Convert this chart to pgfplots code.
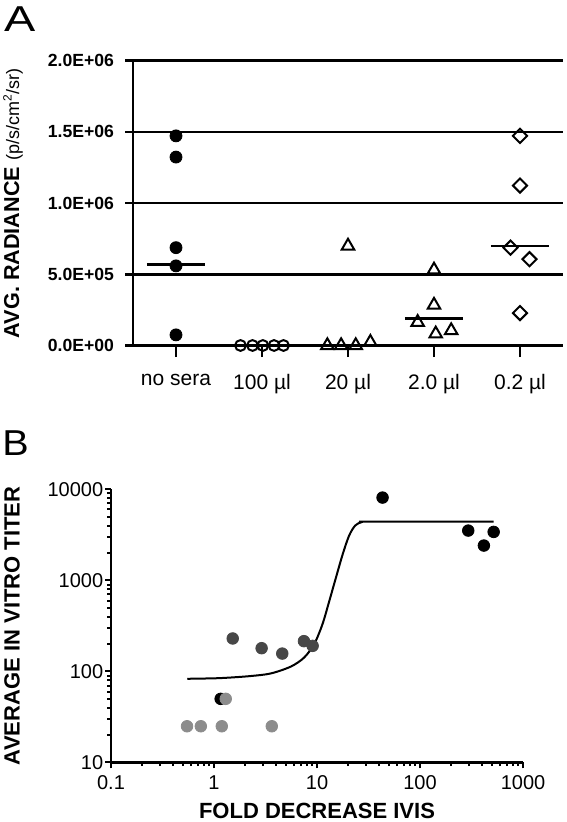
\documentclass[border=0pt]{standalone}
\usepackage{fontspec}
\setmainfont{Liberation Sans}
\usepackage{pgfplots}
\pgfplotsset{compat=1.18}
\definecolor{dgray}{HTML}{474747}
\definecolor{lgray}{HTML}{8C8C8C}
\begin{document}
\begin{tikzpicture}
\useasboundingbox (0,0) rectangle (283pt,411pt);
% Panel A
\begin{axis}[
  at={(66.5pt,238.25pt)}, anchor=south west,
  scale only axis, width=215pt, height=142.4pt,
  xmin=-0.5, xmax=4.5, ymin=0, ymax=2000000,
  clip=false,
  axis x line=bottom, axis y line=left,
  axis line style={-, line width=1.3pt},
  tick style={line width=1.3pt, black},
  tick align=outside, major tick length=4pt,
  xtick style={/pgfplots/major tick length=5.8pt},
  xtick={0,1,2,3,4},
  xticklabels={no sera,100 \textmu l,20 \textmu l,2.0 \textmu l,0.2 \textmu l},
  ytick={0,500000,1000000,1500000,2000000},
  yticklabels={\textbf{0.0E+00},\textbf{5.0E+05},\textbf{1.0E+06},\textbf{1.5E+06},\textbf{2.0E+06}},
  scaled y ticks=false,
  ymajorgrids, major grid style={line width=1.3pt, black},
  xticklabel style={font=\fontsize{10.5pt}{12pt}\selectfont, anchor=north, inner sep=0pt, yshift=-10.3pt},
  yticklabel style={font=\fontsize{8.8pt}{10pt}\selectfont, anchor=east, inner sep=0pt, xshift=-5.3pt},
  ylabel={\textbf{AVG. RADIANCE} \fontsize{9pt}{10pt}\selectfont(p/s/cm\textsuperscript{2}/sr)},
  every axis y label/.style={at={(axis description cs:-0.279,0.5)}, rotate=90, anchor=center, font=\fontsize{10.8pt}{12pt}\selectfont},
]
\addplot[only marks, mark=*, mark size=3pt, black] coordinates {
 (0,1472000) (0,1323000) (0,687000) (0,559000) (0,74500)};
\addplot[only marks, mark=o, mark size=2.7pt, black, mark options={line width=1pt}] coordinates {
 (0.75,0) (0.89,0) (1.01,0) (1.14,0) (1.25,0)};
\addplot[only marks, mark=triangle, mark size=3.6pt, black, mark options={line width=1pt}] coordinates {
 (2,699000) (1.76,0) (1.92,0) (2.09,0) (2.26,23000)};
\addplot[only marks, mark=triangle, mark size=3.6pt, black, mark options={line width=1pt}] coordinates {
 (3,531000) (3,284000) (2.81,163000) (3.02,82000) (3.2,105000)};
\addplot[only marks, mark=square, mark size=2.5pt, black, mark options={rotate=45, line width=1pt}] coordinates {
 (4,1472000) (4,1123000) (3.89,687000) (4.11,606000) (4,228000)};
% medians
\addplot[black, line width=1.3pt] coordinates {(-0.34,568000) (0.34,568000)};
\addplot[black, line width=1.3pt] coordinates {(0.66,0) (1.34,0)};
\addplot[black, line width=1.3pt] coordinates {(1.66,0) (2.34,0)};
\addplot[black, line width=1.3pt] coordinates {(2.66,191000) (3.34,191000)};
\addplot[black, line width=1.3pt] coordinates {(3.66,699000) (4.34,699000)};
\end{axis}
% Panel B
\begin{axis}[
  at={(55.5pt,29.75pt)}, anchor=south west,
  scale only axis, width=206pt, height=136.6pt,
  xmode=log, ymode=log,
  xmin=0.1, xmax=1000, ymin=10, ymax=10000,
  clip=false,
  axis x line=bottom, axis y line=left,
  axis line style={-, line width=1.3pt},
  tick style={line width=1pt, black},
  tick align=outside, major tick length=3pt, minor tick length=1.8pt,
  xtick={0.1,1,10,100,1000}, xticklabels={0.1,1,10,100,1000},
  ytick={10,100,1000,10000}, yticklabels={10,100,1000,10000},
  minor xtick={0.2,0.3,0.4,0.5,0.6,0.7,0.8,0.9,2,3,4,5,6,7,8,9,20,30,40,50,60,70,80,90,200,300,400,500,600,700,800,900},
  minor ytick={20,30,40,50,60,70,80,90,200,300,400,500,600,700,800,900,2000,3000,4000,5000,6000,7000,8000,9000},
  xticklabel style={font=\fontsize{10pt}{12pt}\selectfont, anchor=north, inner sep=0pt, yshift=-3.5pt},
  yticklabel style={font=\fontsize{10pt}{12pt}\selectfont, anchor=east, inner sep=0pt, xshift=-0.7pt},
  xlabel={\textbf{FOLD DECREASE IVIS}},
  ylabel={\textbf{AVERAGE IN VITRO TITER}},
  every axis x label/.style={at={(axis description cs:0.5,-0.178)}, anchor=center, font=\fontsize{11pt}{13pt}\selectfont},
  every axis y label/.style={at={(axis description cs:-0.240,0.5)}, rotate=90, anchor=center, font=\fontsize{11pt}{13pt}\selectfont},
]
\addplot[black, line width=1pt, smooth, tension=0.5] coordinates {
 (0.55,83) (1.0,84) (1.4,85.5) (2.27,89) (3.56,95) (5.57,113) (7.5,142) (9.4,200)
 (11.3,330) (13.2,600) (15.3,1080) (17.8,1950) (20.5,3100) (23.5,4000) (27,4350) (32,4420) (519,4420)};
\addplot[only marks, mark=*, mark size=2.9pt, lgray] coordinates {
 (0.547,25) (0.745,25) (1.19,25) (3.64,25)};
\addplot[only marks, mark=*, mark size=2.9pt, dgray] coordinates {
 (1.52,230) (2.90,180) (4.60,157) (7.47,215) (9.07,191)};
\addplot[only marks, mark=*, mark size=2.9pt, black] coordinates {
 (43.3,8110) (294,3520) (417,2410) (519,3404) (1.16,50)};
\addplot[only marks, mark=*, mark size=2.9pt, lgray] coordinates {
 (1.30,50)};
\end{axis}
\node[anchor=north west, inner sep=0pt, xscale=1.3, font=\fontsize{18pt}{20pt}\selectfont] at (1.8pt,407.6pt) {A};
\node[anchor=north west, inner sep=0pt, xscale=1.1, font=\fontsize{18pt}{20pt}\selectfont] at (1pt,196pt) {B};
\end{tikzpicture}
\end{document}
